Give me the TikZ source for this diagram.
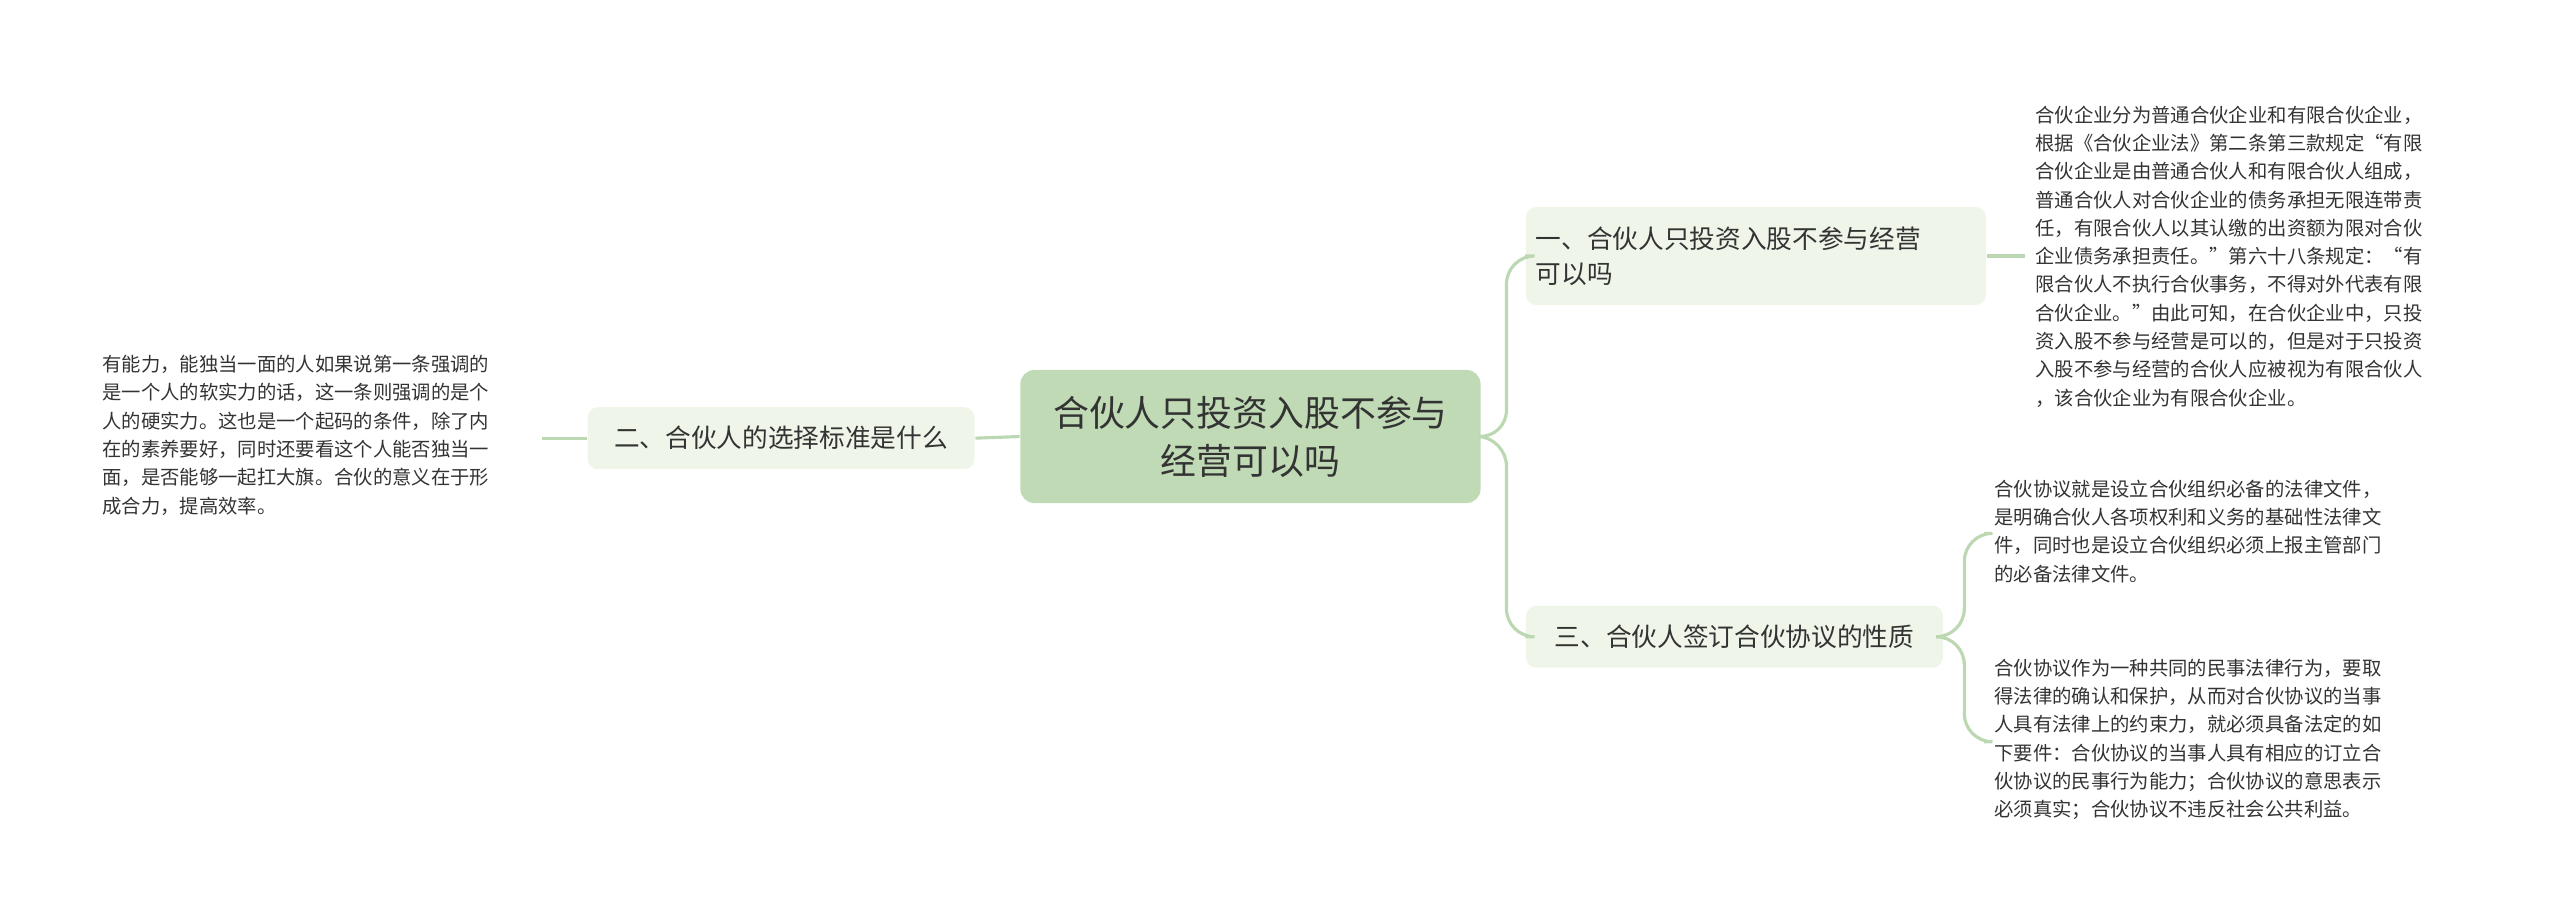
\documentclass[tikz,border=0pt]{standalone}
\usepackage{fontspec}
\setmainfont{Noto Sans CJK SC}
\begin{document}
\begin{tikzpicture}[x=0.01641cm,y=-0.01641cm,
  line/.style={draw=lineg,line width=0.9pt,rounded corners=8pt},
  leaf/.style={align=left,anchor=north west,inner sep=0pt,font=\fontsize{5.5pt}{8.05pt}\selectfont,text=txt},
  branch/.style={fill=brfill,rounded corners=3pt,inner sep=0pt,text=txt,font=\fontsize{7.3pt}{10pt}\selectfont,align=left}]
\definecolor{lineg}{HTML}{BCD8B2}
\definecolor{brfill}{HTML}{EFF6E9}
\definecolor{cfill}{HTML}{BFDAB5}
\definecolor{txt}{HTML}{333333}
\useasboundingbox (0,0) rectangle (1560,562);
\node[fill=cfill,rounded corners=4pt,minimum width=285\pgflinewidth,inner sep=0pt,text=txt,
  font=\fontsize{10.2pt}{13.6pt}\selectfont,align=center,text width=4.6cm,minimum height=1.33cm]
  (c) at (762,266) {合伙人只投资入股不参与\\经营可以吗};
\node[branch,minimum width=3.87cm,minimum height=0.62cm,align=center] (l) at (476,267) {二、合伙人的选择标准是什么};
\node[branch,minimum width=4.6cm,minimum height=0.98cm,text width=4.4cm] (r1) at (1070,156) {一、合伙人只投资入股不参与经营\\可以吗};
\node[branch,minimum width=4.17cm,minimum height=0.62cm,align=center] (r3) at (1057,388) {三、合伙人签订合伙协议的性质};
\node[leaf] (lt) at (62,216) {有能力，能独当一面的人如果说第一条强调的\\是一个人的软实力的话，这一条则强调的是个\\人的硬实力。这也是一个起码的条件，除了内\\在的素养要好，同时还要看这个人能否独当一\\面，是否能够一起扛大旗。合伙的意义在于形\\成合力，提高效率。};
\node[leaf] (t1) at (1240,64) {合伙企业分为普通合伙企业和有限合伙企业，\\根据《合伙企业法》第二条第三款规定“有限\\合伙企业是由普通合伙人和有限合伙人组成，\\普通合伙人对合伙企业的债务承担无限连带责\\任，有限合伙人以其认缴的出资额为限对合伙\\企业债务承担责任。”第六十八条规定：“有\\限合伙人不执行合伙事务，不得对外代表有限\\合伙企业。”由此可知，在合伙企业中，只投\\资入股不参与经营是可以的，但是对于只投资\\入股不参与经营的合伙人应被视为有限合伙人\\，该合伙企业为有限合伙企业。};
\node[leaf] (t2) at (1215,292) {合伙协议就是设立合伙组织必备的法律文件，\\是明确合伙人各项权利和义务的基础性法律文\\件，同时也是设立合伙组织必须上报主管部门\\的必备法律文件。};
\node[leaf] (t3) at (1215,401) {合伙协议作为一种共同的民事法律行为，要取\\得法律的确认和保护，从而对合伙协议的当事\\人具有法律上的约束力，就必须具备法定的如\\下要件：合伙协议的当事人具有相应的订立合\\伙协议的民事行为能力；合伙协议的意思表示\\必须真实；合伙协议不违反社会公共利益。};
\draw[line] (c.west) -- (l.east);
\draw[line] (l.west) -- (330,267);
\draw[line] (c.east) -- (918,267) |- (r1.west);
\draw[line] (c.east) -- (918,267) |- (r3.west);
\draw[line] (r1.east) -- (1234,156);
\draw[line] (r3.east) -- (1197,388) |- (1209,325);
\draw[line] (r3.east) -- (1197,388) |- (1209,452);
\end{tikzpicture}
\end{document}
